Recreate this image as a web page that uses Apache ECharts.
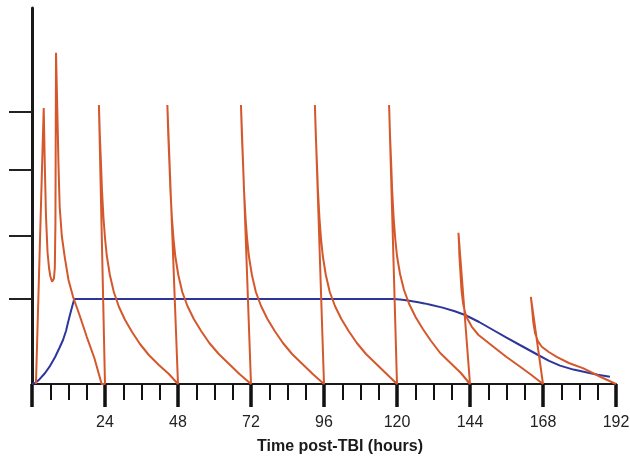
<!DOCTYPE html>
<html>
<head>
<meta charset="utf-8">
<script src="https://cdn.jsdelivr.net/npm/echarts@6/dist/echarts.min.js"></script>
<style>
  html, body { margin: 0; padding: 0; background: #ffffff; }
  #chart { width: 630px; height: 458px; }
</style>
</head>
<body>
<div id="chart"></div>
<script>
// Time axis (hours after injury)
const xMin = 0;
const xMax = 192;
const xStep = 24;
// Concentration axis (arbitrary units); unlabelled tick marks
const yMax = 94;
const yTicks = [21.25, 37, 53.5, 68];

// Drug concentration after each dose: [hour, level]
const doseStart = [
  [1.3, 0], [3.85, 69],
  [4.2, 55], [4.6, 42], [5.1, 33], [5.6, 29], [6.0, 27], [6.6, 25.6],
  [7.2, 26.3], [7.5, 29], [7.7, 40], [7.9, 82.8],
  [8.3, 69.3], [8.7, 55], [9.1, 44.3], [9.8, 37], [10.75, 31.8], [12, 26],
  [13.5, 21.8], [15.5, 17.5], [18, 11.8], [20.5, 6.5], [22.9, 0]
];
const dose24 = [
  [24, 0], [22.0, 69.75],
  [22.3, 62.25], [22.7, 54.75], [23.0, 48.5], [23.5, 41.5], [24.0, 36.5],
  [24.6, 32], [25.6, 27.25], [26.9, 23], [28.6, 19.25], [30.6, 16],
  [32.9, 13], [35.5, 10], [38.4, 7.25], [41.7, 4.75], [45.0, 2.5], [48, 0]
];
const dose48 = [
  [44.5, 69.75],
  [44.8, 62.25], [45.2, 54.75], [45.5, 48.5], [46.0, 41.5], [46.5, 36.5],
  [47.1, 32], [48.1, 27.25], [49.4, 23], [51.1, 19.5], [53.2, 16.25],
  [55.6, 13.25], [58.3, 10.25], [61.4, 7.5], [64.8, 5], [68.2, 2.5], [72, 0]
];
const dose72 = [
  [68.7, 69.75],
  [69.0, 62.25], [69.4, 54.75], [69.7, 48.5], [70.2, 41.5], [70.7, 36.5],
  [71.3, 32], [72.3, 27.25], [73.6, 23], [75.3, 19.5], [77.4, 16.25],
  [79.8, 13.25], [82.5, 10.25], [85.5, 7.5], [88.9, 5], [92.3, 2.5], [96, 0]
];
const dose96 = [
  [93.0, 69.75],
  [93.3, 62.25], [93.7, 54.75], [94.0, 48.5], [94.5, 41.5], [95.0, 36.5],
  [95.6, 32], [96.6, 27.25], [97.9, 23], [99.6, 19.5], [101.7, 16.25],
  [104.1, 13.25], [106.8, 10.25], [109.8, 7.5], [113.2, 5], [116.6, 2.5], [120, 0]
];
const dose120 = [
  [117.4, 69.75],
  [117.7, 62.25], [118.1, 54.75], [118.4, 48.5], [118.9, 41.5], [119.4, 36.5],
  [120.0, 32], [121.0, 27.5], [122.3, 23.5], [124.0, 20], [126.1, 16.75],
  [128.5, 13.75], [131.2, 10.75], [134.2, 7.75], [137.6, 5.25], [141.0, 2.75], [144, 0]
];
const dose144 = [
  [140.2, 37.8],
  [140.4, 34.75], [140.5, 32.25], [140.8, 28.5], [141.2, 23.5], [141.7, 20.25],
  [142.4, 17.75], [143.2, 16.25], [144.6, 14.3], [146.8, 12.25], [151.7, 9.3],
  [156.0, 6.75], [160.5, 4.3], [164.2, 2.25], [168, 0]
];
const dose168 = [
  [164.0, 21.8],
  [164.3, 19.75], [164.8, 15.5], [165.4, 12.7], [166.3, 10.75], [167.6, 9.3],
  [169.9, 8], [172.5, 6.8], [176.5, 5.25], [181.3, 3.9], [187.0, 1.75], [192, 0]
];

// Target level: ramp up, plateau, then taper
const targetLevel = [
  [0, 0], [1, 0.25], [2.5, 1.2], [4.3, 2.75], [6, 4.6], [7.6, 6.75],
  [9, 9], [10.2, 11], [11.2, 13.3], [11.8, 15.25], [12.6, 17.6],
  [13.3, 19.6], [13.9, 21.25],
  [119, 21.25], [121, 21.15], [123, 20.95], [125, 20.7], [127, 20.45],
  [129, 20.15], [131, 19.8], [135, 19.1], [139, 18.2], [142.4, 17.25],
  [147, 15.5], [151.6, 13.5], [156, 11.6], [160.4, 9.75], [166.4, 7.25],
  [170, 5.8], [173.6, 4.6], [178, 3.6], [182.5, 2.9], [186, 2.3], [190, 1.8]
];

const doseCurve = [].concat(
  doseStart, dose24, dose48, dose72, dose96, dose120, dose144, dose168
);

const chart = echarts.init(document.getElementById('chart'), null, { renderer: 'canvas' });

chart.setOption({
  backgroundColor: '#ffffff',
  animation: false,
  grid: {
    left: 32, right: 14, top: 8, bottom: 74,
    containLabel: false,
    outerBoundsMode: 'none'
  },
  xAxis: {
    type: 'value',
    min: xMin,
    max: xMax,
    interval: xStep,
    name: 'Time post-TBI (hours)',
    nameLocation: 'middle',
    nameGap: 55,
    nameTextStyle: {
      fontFamily: 'Liberation Sans, Arial, sans-serif',
      fontWeight: 'bold',
      fontSize: 16,
      color: '#1a1a1a',
      padding: [0, 0, 0, 32]
    },
    axisLine: { show: true, onZero: false, lineStyle: { color: '#1a1a1a', width: 2 } },
    axisTick: { show: true, length: 23, lineStyle: { color: '#111', width: 3.5 } },
    minorTick: { show: true, splitNumber: 4, length: 16, lineStyle: { color: '#111', width: 2 } },
    axisLabel: {
      show: true,
      margin: 31,
      fontFamily: 'Liberation Sans, Arial, sans-serif',
      fontSize: 16,
      color: '#222',
      formatter: v => (v === 0 ? '' : String(v))
    },
    splitLine: { show: false },
    minorSplitLine: { show: false }
  },
  yAxis: {
    type: 'value',
    min: 0,
    max: yMax,
    axisLine: { show: true, onZero: false, lineStyle: { color: '#1a1a1a', width: 3 } },
    axisTick: {
      show: true,
      customValues: yTicks,
      length: 23,
      lineStyle: { color: '#222', width: 2 }
    },
    axisLabel: { show: false },
    splitLine: { show: false }
  },
  series: [
    {
      name: 'Target level',
      type: 'line',
      data: targetLevel,
      smooth: false,
      showSymbol: false,
      lineStyle: { color: '#2d369a', width: 2 },
      z: 2
    },
    {
      name: 'Drug level',
      type: 'line',
      data: doseCurve,
      smooth: false,
      showSymbol: false,
      lineStyle: { color: '#d4582c', width: 2 },
      z: 3
    }
  ]
});
</script>
</body>
</html>
